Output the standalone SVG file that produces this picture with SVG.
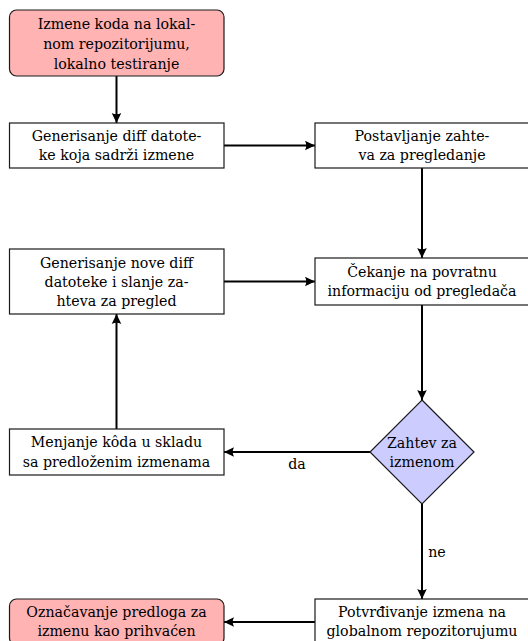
<svg xmlns="http://www.w3.org/2000/svg" width="528" height="641" viewBox="0 0 528 641">
  <style>
    .box { fill: #ffffff; stroke: #1a1a1a; stroke-width: 1.2; }
    .term { fill: #ffb3b3; stroke: #1a1a1a; stroke-width: 1.2; }
    .dec { fill: #ccccff; stroke: #1a1a1a; stroke-width: 1.2; }
    .lbl { font-family: "DejaVu Serif", serif; font-size: 14.2px; fill: #000; text-anchor: middle; }
    .edge { fill: none; stroke: #000; stroke-width: 2; marker-end: url(#stealth); }
  </style>
  <defs>
    <marker id="stealth" markerUnits="userSpaceOnUse" markerWidth="14" markerHeight="12" viewBox="-11 -6 12 12" refX="0" refY="0" orient="auto">
      <path d="M0,0 L-10,-4.8 Q-7.5,0 -10,4.8 Z" fill="#000"/>
    </marker>
  </defs>

  <rect width="528" height="641" fill="#ffffff"/>

  <!-- connectors -->
  <g id="edges">
    <path class="edge" d="M116.5,76 V123"/>
    <path class="edge" d="M224,145.5 H315"/>
    <path class="edge" d="M422,168 V258"/>
    <path class="edge" d="M422,305 V400"/>
    <path class="edge" d="M224,281.5 H315"/>
    <path class="edge" d="M116.5,429 V314"/>
    <path class="edge" d="M370,452 H224"/>
    <path class="edge" d="M422,504 V599"/>
    <path class="edge" d="M315,622 H224"/>
    <text class="lbl" x="297" y="469">da</text>
    <text class="lbl" x="437" y="557">ne</text>
  </g>

  <!-- start: local changes -->
  <g id="n-local">
    <rect class="term" x="9.5" y="10" width="214.5" height="66" rx="7"/>
    <text class="lbl" x="116.5" y="28.5">Izmene koda na lokal-</text>
    <text class="lbl" x="116.5" y="48.5">nom repozitorijumu,</text>
    <text class="lbl" x="116.5" y="68.5">lokalno testiranje</text>
  </g>

  <g id="n-diff">
    <rect class="box" x="9.5" y="123" width="214.5" height="45"/>
    <text class="lbl" x="116.5" y="140.5">Generisanje diff datote-</text>
    <text class="lbl" x="116.5" y="160">ke koja sadrži izmene</text>
  </g>

  <g id="n-request">
    <rect class="box" x="315" y="123" width="214" height="45"/>
    <text class="lbl" x="422" y="140.5">Postavljanje zahte-</text>
    <text class="lbl" x="422" y="160">va za pregledanje</text>
  </g>

  <g id="n-wait">
    <rect class="box" x="315" y="258" width="214" height="47"/>
    <text class="lbl" x="422" y="276.5">Čekanje na povratnu</text>
    <text class="lbl" x="422" y="296">informaciju od pregledača</text>
  </g>

  <g id="n-newdiff">
    <rect class="box" x="9.5" y="249" width="214.5" height="65"/>
    <text class="lbl" x="116.5" y="267.5">Generisanje nove diff</text>
    <text class="lbl" x="116.5" y="287">datoteke i slanje za-</text>
    <text class="lbl" x="116.5" y="306">hteva za pregled</text>
  </g>

  <g id="n-decision">
    <polygon class="dec" points="422,400 474,452 422,504 370,452"/>
    <text class="lbl" x="422" y="447.5">Zahtev za</text>
    <text class="lbl" x="422" y="467">izmenom</text>
  </g>

  <g id="n-modify">
    <rect class="box" x="9.5" y="429" width="214.5" height="46"/>
    <text class="lbl" x="116.5" y="447">Menjanje kôda u skladu</text>
    <text class="lbl" x="116.5" y="466.5">sa predloženim izmenama</text>
  </g>

  <g id="n-confirm">
    <rect class="box" x="315" y="599" width="214" height="46"/>
    <text class="lbl" x="422" y="617">Potvrđivanje izmena na</text>
    <text class="lbl" x="422" y="636">globalnom repozitorujumu</text>
  </g>

  <g id="n-accepted">
    <rect class="term" x="9.5" y="599" width="214.5" height="46" rx="7"/>
    <text class="lbl" x="116.5" y="617">Označavanje predloga za</text>
    <text class="lbl" x="116.5" y="636">izmenu kao prihvaćen</text>
  </g>
</svg>
